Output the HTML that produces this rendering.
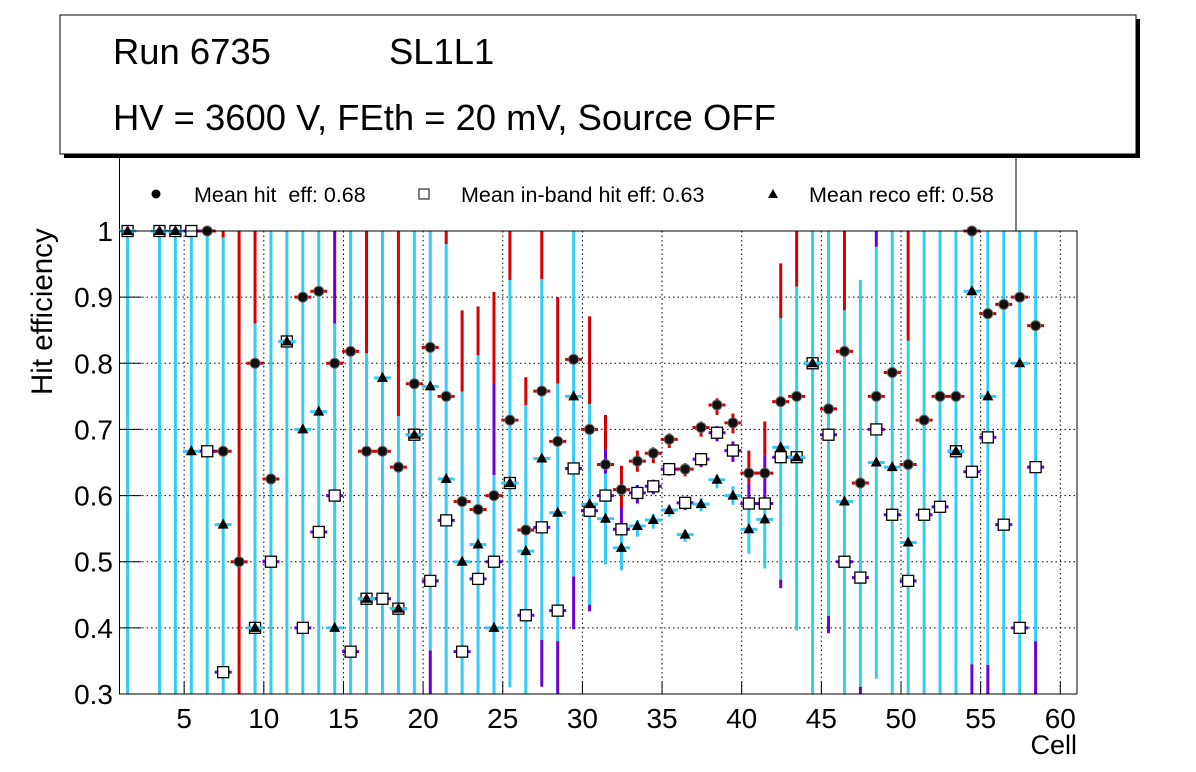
<!DOCTYPE html>
<html><head><meta charset="utf-8"><style>
html,body{margin:0;padding:0;background:#fff;}
svg{display:block;font-family:"Liberation Sans",Arial,sans-serif;}
</style></head><body>
<svg id="chart" width="1196" height="772" viewBox="0 0 1196 772" xmlns="http://www.w3.org/2000/svg">
<g>
<rect x="64" y="19" width="1076" height="139" fill="#000"/>
<rect x="60" y="15" width="1076" height="139" fill="#fff" stroke="#000" stroke-width="1"/>
<text x="113" y="64" font-size="36.4">Run 6735</text>
<text x="389" y="64" font-size="36.4">SL1L1</text>
<text x="113" y="130" font-size="36.4">HV = 3600 V, FEth = 20 mV, Source OFF</text>
</g>
<g>
<rect x="119.5" y="158" width="896.5" height="73" fill="#fff" stroke="none"/>
<line x1="119.5" y1="154" x2="119.5" y2="231" stroke="#000"/>
<line x1="1016" y1="154" x2="1016" y2="231" stroke="#000"/>
<circle cx="156" cy="194" r="4.5" fill="#000"/>
<text x="194" y="202" font-size="21.5" xml:space="preserve">Mean hit  eff: 0.68</text>
<rect x="419" y="189" width="10" height="10" fill="#fff" stroke="#000"/>
<text x="461" y="202" font-size="21.5">Mean in-band hit eff: 0.63</text>
<path d="M773 189 L778 198 L768 198 Z" fill="#000"/>
<text x="809" y="202" font-size="21.5">Mean reco eff: 0.58</text>
</g>
<g id="grid"></g>
<g id="bars"></g>
<g id="marks"></g>
<rect x="119.5" y="231" width="957.5" height="463" fill="none" stroke="#000" stroke-width="1"/>
<g id="axes"></g>
<text x="0" y="0" font-size="29.5" transform="translate(52,395) rotate(-90)">Hit efficiency</text>
<text x="1077" y="754" font-size="27" text-anchor="end">Cell</text>
</svg>
<script>
const cells=[1,2,3,4,5,6,7,8,9,10,11,12,13,14,15,16,17,18,19,20,21,22,23,24,25,26,27,28,29,30,31,32,33,34,35,36,37,38,39,40,41,42,43,44,45,46,47,48,49,50,51,52,53,54,55,56,57,58];
const hitEff=[1,null,1,1,1,1,0.667,0.5,0.8,0.625,0.833,0.9,0.909,0.8,0.818,0.667,0.667,0.643,0.769,0.824,0.75,0.591,0.579,0.6,0.714,0.548,0.758,0.682,0.806,0.7,0.647,0.609,0.652,0.664,0.685,0.64,0.703,0.737,0.71,0.634,0.634,0.742,0.75,0.8,0.731,0.818,0.619,0.75,0.786,0.647,0.714,0.75,0.75,1,0.875,0.889,0.9,0.857];
const inbandEff=[1,null,1,1,1,0.667,0.333,null,0.4,0.5,0.833,0.4,0.545,0.6,0.364,0.444,0.444,0.429,0.692,0.471,0.5625,0.364,0.474,0.5,0.619,0.419,0.552,0.426,0.641,0.577,0.6,0.549,0.604,0.614,0.64,0.589,0.655,0.695,0.668,0.588,0.588,0.658,0.658,0.8,0.692,0.5,0.476,0.7,0.571,0.471,0.571,0.583,0.667,0.636,0.688,0.556,0.4,0.643];
const recoEff=[1,null,1,1,0.667,null,0.556,null,0.4,null,0.833,0.7,0.727,0.4,null,0.444,0.778,0.429,0.692,0.765,0.625,0.5,0.526,0.4,0.619,0.516,0.656,0.574,0.75,0.587,0.565,0.521,0.554,0.563,0.578,0.541,0.587,0.624,0.6,0.549,0.564,0.673,0.658,0.8,null,0.591,null,0.65,0.643,0.529,null,null,0.667,0.909,0.75,null,0.8,null];
// error band limits (cyan = reco, red = hit, purple = in-band)
const cyanLo=[0.3,null,0.3,0.3,0.3,0.3,0.3,null,0.3,0.3,0.3,0.3,0.3,0.3,0.3,0.3,0.3,0.3,0.3,0.366,0.3,0.3,0.3,0.3,0.31,0.3,0.382,0.38,0.478,0.435,0.496,0.487,0.538,0.55,0.568,0.53,0.576,0.611,0.586,0.512,0.49,0.473,0.396,0.3,0.418,0.3,0.311,0.323,0.3,0.3,0.3,0.3,0.3,0.345,0.344,0.3,0.3,0.38];
const cyanHi=[1,null,1,1,1,1,0.99,null,0.86,1,1,1,1,0.86,1,0.815,1,0.72,1,1,0.98,0.757,0.812,0.631,0.926,0.737,0.927,0.769,1,0.738,0.633,0.548,0.563,0.572,0.586,0.548,0.596,0.631,0.614,0.586,0.593,0.868,0.916,1,1,0.88,0.926,0.976,1,0.834,1,1,1,1,1,1,1,1];
const redLo=[null,null,null,null,null,null,0.99,0.3,0.86,null,null,null,null,null,null,0.815,null,0.72,null,null,0.98,0.757,0.812,0.77,0.926,0.737,0.927,0.769,null,0.738,0.67,0.582,0.636,0.649,0.672,0.629,0.689,0.722,0.694,0.618,0.661,0.868,0.916,null,null,0.88,null,null,null,0.834,null,null,null,null,null,null,null,null];
const redHi=[null,null,null,null,null,null,1,1,1,null,null,null,null,null,null,1,null,1,null,null,1,0.88,0.886,0.908,1,0.779,1,0.9,null,0.871,0.722,0.645,0.668,0.673,0.694,0.649,0.712,0.747,0.724,0.668,0.712,0.951,1,null,null,1,null,null,null,1,null,null,null,null,null,null,null,null];
const purLo=[null,null,null,null,null,null,null,null,null,null,null,null,null,0.86,null,null,null,null,null,0.3,null,null,null,0.631,null,null,0.311,0.3,0.398,0.425,0.633,0.548,0.588,0.602,0.63,0.578,0.643,0.682,0.651,0.586,0.593,0.46,null,null,0.392,null,0.3,0.976,null,null,null,null,null,0.3,0.3,null,null,0.3];
const purHi=[null,null,null,null,null,null,null,null,null,null,null,null,null,1,null,null,null,null,null,0.366,null,null,null,0.77,null,null,0.382,0.38,0.478,0.435,0.67,0.582,0.616,0.624,0.649,0.598,0.664,0.705,0.682,0.618,0.661,0.473,null,null,0.418,null,0.311,1,null,null,null,null,null,0.345,0.344,null,null,0.38];
const yTicks=[0.3,0.4,0.5,0.6,0.7,0.8,0.9,1];
const yTickLabels=["0.3","0.4","0.5","0.6","0.7","0.8","0.9","1"];
const xTicks=[5,10,15,20,25,30,35,40,45,50,55,60];

const NS="http://www.w3.org/2000/svg";
const X0=104.5,XS=15.93,PL=119.5,PR=1077,PT=231,PB=694;
function xPix(v){return X0+XS*v;}
function yPix(v){return PB-(v-0.3)/0.7*(PB-PT);}
function cx(c){return xPix(c+0.45);}
function mk(tag,parent,attrs){const e=document.createElementNS(NS,tag);for(const k in attrs)e.setAttribute(k,attrs[k]);parent.appendChild(e);return e;}
const grid=document.getElementById('grid'),axes=document.getElementById('axes'),bars=document.getElementById('bars'),marks=document.getElementById('marks');

yTicks.forEach((t,i)=>{
  const y=yPix(t);
  if(t>0.3&&t<1){const g=mk('line',grid,{x1:PL,x2:PR,y1:y,y2:y,stroke:'#000','stroke-dasharray':'1.5,3','stroke-width':1});
  
  }
  const tk=mk('line',axes,{x1:PL,x2:PL+22,y1:y,y2:y,stroke:'#000'});
  
  
  const lb=mk('text',axes,{x:113,y:y+10,'font-size':28,'text-anchor':'end'});
  lb.textContent=yTickLabels[i];
  
  
});
xTicks.forEach(t=>{
  const x=xPix(t);
  const g=mk('line',grid,{x1:x,x2:x,y1:PT,y2:PB,stroke:'#000','stroke-dasharray':'1.5,3','stroke-width':1});
  
  
  const tk=mk('line',axes,{x1:x,x2:x,y1:PB,y2:PB-12,stroke:'#000'});
  
  
  const lb=mk('text',axes,{x:x,y:728,'font-size':28,'text-anchor':'middle'});
  lb.textContent=String(t);
  
  
});
function clamp(v){return Math.max(0.3,Math.min(1,v));}
function vbar(c,lo,hi,col,name){
  if(lo==null||hi==null)return;
  const l=mk('line',bars,{x1:cx(c),x2:cx(c),y1:yPix(clamp(lo)),y2:yPix(clamp(hi)),stroke:col,'stroke-width':3});
  
  
}
cells.forEach((c,i)=>{
  vbar(c,redLo[i],redHi[i],'#d40000','hit-error-bar');
  vbar(c,purLo[i],purHi[i],'#6a00d4','inband-error-bar');
  vbar(c,cyanLo[i],cyanHi[i],'#33ccf5','reco-error-bar');
});
function hbar(c,v,col,name){
  const y=yPix(v);
  const l=mk('line',marks,{x1:cx(c)-8.5,x2:cx(c)+8.5,y1:y,y2:y,stroke:col,'stroke-width':3});
  
  
}
cells.forEach((c,i)=>{
  const v=hitEff[i];
  if(v==null)return;
  hbar(c,v,'#d40000','hit-x-error');
  const p=mk('circle',marks,{cx:cx(c),cy:yPix(v),r:5,fill:'#111',stroke:'#666','stroke-width':1});
  
  
});
cells.forEach((c,i)=>{
  const v=inbandEff[i];
  if(v==null)return;
  hbar(c,v,'#6a00d4','inband-x-error');
  const p=mk('rect',marks,{x:cx(c)-5.5,y:yPix(v)-5.5,width:11,height:11,fill:'#fff',stroke:'#000','stroke-width':1.3});
  
  
});
cells.forEach((c,i)=>{
  const v=recoEff[i];
  if(v==null)return;
  hbar(c,v,'#33ccf5','reco-x-error');
  const x=cx(c),y=yPix(v);
  const p=mk('path',marks,{d:`M${x} ${y-6} L${x+5.5} ${y+4} L${x-5.5} ${y+4} Z`,fill:'#000'});
  
  
});
</script>
</body></html>
